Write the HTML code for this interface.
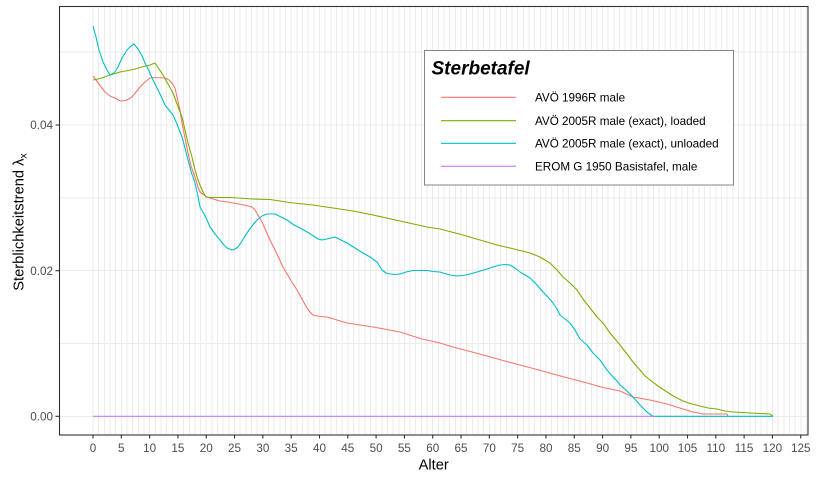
<!DOCTYPE html>
<html><head><meta charset="utf-8"><style>
html,body{margin:0;padding:0;background:#fff;}
svg{display:block;font-family:"Liberation Sans",Arial,sans-serif;}
</style></head><body>
<svg width="816" height="480" viewBox="0 0 816 480" xmlns="http://www.w3.org/2000/svg">
<rect x="0" y="0" width="816" height="480" fill="#fff"/>
<g stroke="#EBEBEB" stroke-width="1" fill="none" shape-rendering="crispEdges">
<path d="M60 416.3H808M60 343.5H808M60 270.7H808M60 197.9H808M60 125H808M60 52.2H808"/>
<path d="M93 7V435M98.66 7V435M104.32 7V435M109.99 7V435M115.65 7V435M121.31 7V435M126.97 7V435M132.63 7V435M138.3 7V435M143.96 7V435M149.62 7V435M155.28 7V435M160.94 7V435M166.61 7V435M172.27 7V435M177.93 7V435M183.59 7V435M189.25 7V435M194.92 7V435M200.58 7V435M206.24 7V435M211.9 7V435M217.56 7V435M223.23 7V435M228.89 7V435M234.55 7V435M240.21 7V435M245.87 7V435M251.54 7V435M257.2 7V435M262.86 7V435M268.52 7V435M274.18 7V435M279.85 7V435M285.51 7V435M291.17 7V435M296.83 7V435M302.49 7V435M308.16 7V435M313.82 7V435M319.48 7V435M325.14 7V435M330.8 7V435M336.47 7V435M342.13 7V435M347.79 7V435M353.45 7V435M359.11 7V435M364.78 7V435M370.44 7V435M376.1 7V435M381.76 7V435M387.42 7V435M393.09 7V435M398.75 7V435M404.41 7V435M410.07 7V435M415.73 7V435M421.4 7V435M427.06 7V435M432.72 7V435M438.38 7V435M444.04 7V435M449.71 7V435M455.37 7V435M461.03 7V435M466.69 7V435M472.35 7V435M478.02 7V435M483.68 7V435M489.34 7V435M495 7V435M500.66 7V435M506.33 7V435M511.99 7V435M517.65 7V435M523.31 7V435M528.97 7V435M534.64 7V435M540.3 7V435M545.96 7V435M551.62 7V435M557.28 7V435M562.95 7V435M568.61 7V435M574.27 7V435M579.93 7V435M585.59 7V435M591.26 7V435M596.92 7V435M602.58 7V435M608.24 7V435M613.9 7V435M619.57 7V435M625.23 7V435M630.89 7V435M636.55 7V435M642.21 7V435M647.88 7V435M653.54 7V435M659.2 7V435M664.86 7V435M670.52 7V435M676.19 7V435M681.85 7V435M687.51 7V435M693.17 7V435M698.83 7V435M704.5 7V435M710.16 7V435M715.82 7V435M721.48 7V435M727.14 7V435M732.81 7V435M738.47 7V435M744.13 7V435M749.79 7V435M755.45 7V435M761.12 7V435M766.78 7V435M772.44 7V435M778.1 7V435M783.76 7V435M789.43 7V435M795.09 7V435M800.75 7V435M806.41 7V435"/>
</g>
<g fill="none" stroke-width="1.1" stroke-linejoin="round">
<polyline stroke="#F8766D" points="93,76 99,84 105,92 110,96 115,98 119,100.5 122,101 127,100 132,97 136,92 140,87 145,82 150,78 155,77.5 165,78 169,80 172,83 175,88 177,97 180,110 182,123 185,138 188,153 191,166 195,177 198,187 200,192 204,195 207,197 213,199 220,201 228,202 233,203 244,205 252,207 255,210 258,215 262,222 266,231 270,240 276,252 283,267 290,279 297,290 302,299 307,308 310,312 313,315 320,316.5 327,317 337,320 347,323 360,325 373,327 387,329.5 400,332 411,335.5 422,339 440,343 453,347 470,351.5 487,356 503,360.5 520,365 537,369.5 553,374 570,378.5 587,383 603,387.5 620,391 633,397 650,400 667,404 683,409 693,412 703,414 727,414 728,416.3"/>
<polyline stroke="#7CAE00" points="93,80 100,78.5 110,75 120,72 128,70.5 135,69 142,67 150,65 155,63 159,69 163,75 168,84 173,93 177,104 182,117 185,130 188,143 192,157 195,170 198,180 200,185 203,192 206,197 210,197.5 230,197.5 253,199 270,199.5 293,203 313,205 333,208 353,211 373,215 400,221 427,227 440,229 463,235 480,240 497,245 510,248 520,250.5 530,253 540,257 550,263 557,270 563,277 570,283 577,290 583,299 590,308 597,317 603,323 610,333 615,339 620,345 627,354 633,362 640,370 645,376 650,380 658,386 667,392 675,397 683,401 692,404 700,406 708,408 717,409 725,411 733,412 742,412.5 750,413 760,413.5 770,414 773,416.3"/>
<polyline stroke="#00BFC4" points="93,26 96,37 99,50 103,62 107,70 110,75 114,73 118,67 122,58 127,50 131,46 134,44 138,49 142,56 145,63 149,71 153,80 157,88 161,96 165,105 169,110 173,115 177,124 182,137 185,148 188,160 191,171 195,183 198,196 200,207 204,214 207,220 210,227 215,234 220,240 224,245 227,248 232,250 235,249 238,247 242,241 247,233 252,226 257,220 262,216 267,214 275,214 281,217 287,220 294,225 300,228 309,233 318,239 322,240 327,239 331,238 335,237 341,240 347,243 355,248 363,253 370,257 377,262 382,270 386,273 390,274 395,274.5 400,274 406,272 413,270.5 427,270.5 433,271.5 440,272 443,273 450,275 457,276 463,275.5 470,274 477,272 487,269 493,267 500,265 505,264.5 510,265 515,268 520,272 525,275 530,278 537,285 543,292 548,297 553,303 557,309 560,315 565,319 570,323 575,330 580,339 587,345 593,353 600,360 607,370 613,377 617,381 620,385 627,391 633,397 640,405 647,412 651,415 653,416.3 773,416.3"/>
<polyline stroke="#C77CFF" points="93,416.3 655,416.3"/>
</g>
<rect x="59.5" y="6.5" width="748.5" height="428.5" fill="none" stroke="#333" stroke-width="1.1"/>
<g stroke="#333" stroke-width="1.1" fill="none">
<path d="M55.5 416.3H59.5M55.5 270.7H59.5M55.5 125H59.5"/>
<path d="M93 435V438.5M121.31 435V438.5M149.62 435V438.5M177.93 435V438.5M206.24 435V438.5M234.55 435V438.5M262.86 435V438.5M291.17 435V438.5M319.48 435V438.5M347.79 435V438.5M376.1 435V438.5M404.41 435V438.5M432.72 435V438.5M461.03 435V438.5M489.34 435V438.5M517.65 435V438.5M545.96 435V438.5M574.27 435V438.5M602.58 435V438.5M630.89 435V438.5M659.2 435V438.5M687.51 435V438.5M715.82 435V438.5M744.13 435V438.5M772.44 435V438.5M800.75 435V438.5"/>
</g>
<g fill="#4D4D4D" font-size="11.7" text-anchor="middle">
<text x="93" y="452">0</text>
<text x="121.31" y="452">5</text>
<text x="149.62" y="452">10</text>
<text x="177.93" y="452">15</text>
<text x="206.24" y="452">20</text>
<text x="234.55" y="452">25</text>
<text x="262.86" y="452">30</text>
<text x="291.17" y="452">35</text>
<text x="319.48" y="452">40</text>
<text x="347.79" y="452">45</text>
<text x="376.1" y="452">50</text>
<text x="404.41" y="452">55</text>
<text x="432.72" y="452">60</text>
<text x="461.03" y="452">65</text>
<text x="489.34" y="452">70</text>
<text x="517.65" y="452">75</text>
<text x="545.96" y="452">80</text>
<text x="574.27" y="452">85</text>
<text x="602.58" y="452">90</text>
<text x="630.89" y="452">95</text>
<text x="659.2" y="452">100</text>
<text x="687.51" y="452">105</text>
<text x="715.82" y="452">110</text>
<text x="744.13" y="452">115</text>
<text x="772.44" y="452">120</text>
<text x="800.75" y="452">125</text>
</g>
<g fill="#4D4D4D" font-size="11.7" text-anchor="end">
<text x="53" y="420.5">0.00</text>
<text x="53" y="274.9">0.02</text>
<text x="53" y="129.2">0.04</text>
</g>
<text x="433.7" y="469.5" font-size="14.7" text-anchor="middle" fill="#000">Alter</text>
<text transform="translate(23.5,222) rotate(-90)" font-size="14.7" text-anchor="middle" fill="#000">Sterblichkeitstrend λ<tspan font-size="10.5" dy="3">x</tspan></text>
<rect x="424.5" y="50.5" width="309" height="134.5" fill="#fff" stroke="#858585" stroke-width="1"/>
<text x="431.5" y="74.5" font-size="19" font-weight="bold" font-style="italic" fill="#000">Sterbetafel</text>
<g stroke-width="1.1">
<line x1="441" x2="516" y1="97.3" y2="97.3" stroke="#F8766D"/>
<line x1="441" x2="516" y1="120.7" y2="120.7" stroke="#7CAE00"/>
<line x1="441" x2="516" y1="143.3" y2="143.3" stroke="#00BFC4"/>
<line x1="441" x2="516" y1="166.3" y2="166.3" stroke="#C77CFF"/>
</g>
<g font-size="11.7" fill="#000">
<text x="535" y="101.5">AVÖ 1996R male</text>
<text x="535" y="124.9">AVÖ 2005R male (exact), loaded</text>
<text x="535" y="147.5">AVÖ 2005R male (exact), unloaded</text>
<text x="535" y="170.5">EROM G 1950 Basistafel, male</text>
</g>
</svg>
</body></html>
